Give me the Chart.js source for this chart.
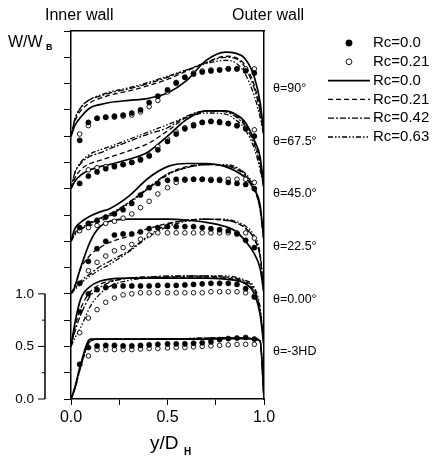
<!DOCTYPE html>
<html lang="en">
<head>
<meta charset="UTF-8">
<title>W/WB profiles, inner to outer wall</title>
<script src="https://cdn.jsdelivr.net/npm/chart.js@4/dist/chart.umd.min.js"></script>
<style>
    html, body { margin: 0; padding: 0; background: #fff; }
    #wrap { position: relative; width: 438px; height: 459px; }
</style>
</head>
<body>
<div id="wrap"><canvas id="profiles"></canvas></div>
<script>
// y/DH stations of the computed curves and of the measured symbols
const lineX = [0, 0.02, 0.05, 0.1, 0.15, 0.2, 0.3, 0.4, 0.5, 0.6, 0.7, 0.8, 0.85, 0.9, 0.95, 0.98, 1.0];
const dotX = [0.02, 0.045, 0.09, 0.135, 0.18, 0.225, 0.27, 0.315, 0.36, 0.405, 0.45, 0.5, 0.545, 0.59, 0.635, 0.68, 0.725, 0.77, 0.815, 0.86, 0.905, 0.95];

// profiles, bottom to top; each is shifted up by its offset
const stations = ['θ=-3HD', 'θ=0.00°', 'θ=22.5°', 'θ=45.0°', 'θ=67.5°', 'θ=90°'];
const offsets = [0, 0.5, 1.0, 1.5, 2.0, 2.5];
const seriesLabels = ['Rc=0.0', 'Rc=0.21', 'Rc=0.0', 'Rc=0.21', 'Rc=0.42', 'Rc=0.63'];

// measured, Rc=0.0 (filled) - one row per profile, on dotX
const measRc000 = [
    [null, 0.33, 0.49, 0.505, 0.51, 0.51, 0.505, 0.505, 0.51, 0.515, 0.52, 0.525, 0.525, 0.525, 0.53, 0.535, 0.545, 0.565, 0.575, 0.58, 0.585, 0.57],
    [null, 0.83, 1.0, 1.04, 1.06, 1.075, 1.075, 1.075, 1.075, 1.075, 1.08, 1.08, 1.08, 1.085, 1.09, 1.095, 1.1, 1.1, 1.1, 1.09, 1.05, 0.97],
    [null, 1.1, 1.31, 1.43, 1.5, 1.56, 1.57, 1.57, 1.59, 1.62, 1.63, 1.64, 1.64, 1.64, 1.64, 1.63, 1.62, 1.61, 1.6, 1.57, 1.51, 1.44],
    [null, 1.63, 1.67, 1.7, 1.73, 1.76, 1.8, 1.86, 1.94, 2.01, 2.05, 2.08, 2.09, 2.09, 2.09, 2.09, 2.08, 2.08, 2.06, 2.05, 2.04, 2.0],
    [null, 2.05, 2.12, 2.16, 2.19, 2.21, 2.23, 2.25, 2.28, 2.31, 2.37, 2.45, 2.52, 2.57, 2.6, 2.63, 2.64, 2.63, 2.62, 2.6, 2.57, 2.5],
    [null, 2.46, 2.63, 2.67, 2.68, 2.69, 2.7, 2.72, 2.75, 2.82, 2.88, 2.94, 3.01, 3.06, 3.09, 3.11, 3.12, 3.13, 3.14, 3.14, 3.12, 3.1]
];
// measured, Rc=0.21 (open)
const measRc021 = [
    [null, null, 0.41, 0.47, 0.47, 0.47, 0.47, 0.47, 0.475, 0.48, 0.48, 0.485, 0.49, 0.49, 0.495, 0.5, 0.505, 0.51, 0.515, 0.52, 0.52, 0.52],
    [null, 0.63, 0.77, 0.85, 0.92, 0.96, 0.99, 1.0, 1.01, 1.01, 1.01, 1.01, 1.01, 1.01, 1.01, 1.01, 1.02, 1.02, 1.02, 1.02, 1.01, 0.98],
    [null, null, 1.22, 1.3, 1.36, 1.41, 1.44, 1.47, 1.52, 1.56, 1.58, 1.58, 1.58, 1.58, 1.58, 1.58, 1.58, 1.58, 1.58, 1.58, 1.58, 1.53],
    [null, 1.6, 1.63, 1.65, 1.67, 1.69, 1.72, 1.76, 1.82, 1.88, 1.95, 2.01, 2.06, 2.08, 2.09, 2.09, 2.09, 2.09, 2.09, 2.09, 2.09, 2.06],
    [null, null, 2.18, 2.2, 2.21, 2.22, 2.23, 2.25, 2.27, 2.32, 2.4, 2.47, 2.54, 2.58, 2.61, 2.63, 2.64, 2.64, 2.62, 2.6, 2.58, 2.56],
    [null, 2.52, 2.6, 2.67, 2.68, 2.68, 2.69, 2.7, 2.73, 2.78, 2.84, 2.92, 3.0, 3.06, 3.1, 3.12, 3.13, 3.13, 3.14, 3.14, 3.14, 3.14]
];

// computed curves, on lineX
const calcRc000 = [
    [0, 0.11, 0.33, 0.57, 0.57, 0.57, 0.57, 0.57, 0.57, 0.57, 0.57, 0.575, 0.575, 0.575, 0.57, 0.55, 0],
    [0.5, 0.72, 0.95, 1.07, 1.12, 1.14, 1.15, 1.15, 1.15, 1.15, 1.15, 1.14, 1.13, 1.1, 1.0, 0.8, 0.5],
    [1.0, 1.07, 1.25, 1.5, 1.64, 1.69, 1.71, 1.71, 1.71, 1.7, 1.68, 1.64, 1.6, 1.51, 1.38, 1.24, 1.0],
    [1.5, 1.62, 1.68, 1.74, 1.78, 1.81, 1.93, 2.1, 2.21, 2.24, 2.24, 2.21, 2.17, 2.11, 1.99, 1.84, 1.5],
    [2.0, 2.07, 2.13, 2.18, 2.21, 2.23, 2.28, 2.35, 2.5, 2.66, 2.74, 2.74, 2.71, 2.64, 2.46, 2.3, 2.0],
    [2.5, 2.6, 2.68, 2.77, 2.8, 2.82, 2.84, 2.86, 2.91, 3.03, 3.22, 3.3, 3.29, 3.24, 3.06, 2.82, 2.5]
];
const calcRc021 = [
    [0, 0.1, 0.32, 0.56, 0.57, 0.57, 0.57, 0.57, 0.57, 0.575, 0.575, 0.58, 0.58, 0.58, 0.575, 0.55, 0],
    [0.5, 0.68, 0.86, 1.02, 1.09, 1.12, 1.15, 1.16, 1.16, 1.16, 1.16, 1.15, 1.14, 1.11, 1.02, 0.82, 0.5],
    [1.0, 1.08, 1.24, 1.37, 1.44, 1.49, 1.55, 1.62, 1.67, 1.7, 1.71, 1.7, 1.68, 1.63, 1.52, 1.35, 1.0],
    [1.5, 1.58, 1.62, 1.65, 1.69, 1.74, 1.87, 2.0, 2.14, 2.21, 2.23, 2.22, 2.19, 2.13, 1.99, 1.8, 1.5],
    [2.0, 2.1, 2.18, 2.24, 2.27, 2.3, 2.36, 2.43, 2.55, 2.68, 2.74, 2.74, 2.7, 2.62, 2.45, 2.25, 2.0],
    [2.5, 2.64, 2.74, 2.82, 2.86, 2.89, 2.93, 2.98, 3.04, 3.12, 3.2, 3.26, 3.25, 3.18, 2.98, 2.76, 2.5]
];
const calcRc042 = [
    [0, 0.1, 0.31, 0.55, 0.57, 0.57, 0.57, 0.57, 0.575, 0.575, 0.58, 0.58, 0.58, 0.58, 0.575, 0.55, 0],
    [0.5, 0.64, 0.8, 0.98, 1.06, 1.11, 1.15, 1.16, 1.17, 1.17, 1.17, 1.16, 1.15, 1.12, 1.04, 0.84, 0.5],
    [1.0, 1.05, 1.12, 1.19, 1.26, 1.31, 1.41, 1.55, 1.66, 1.7, 1.71, 1.7, 1.68, 1.63, 1.52, 1.35, 1.0],
    [1.5, 1.57, 1.62, 1.68, 1.72, 1.76, 1.87, 2.01, 2.14, 2.2, 2.23, 2.22, 2.2, 2.14, 2.0, 1.8, 1.5],
    [2.0, 2.15, 2.24, 2.31, 2.34, 2.38, 2.45, 2.52, 2.58, 2.69, 2.74, 2.73, 2.69, 2.6, 2.42, 2.22, 2.0],
    [2.5, 2.66, 2.77, 2.85, 2.88, 2.91, 2.95, 3.0, 3.06, 3.13, 3.2, 3.25, 3.24, 3.16, 2.95, 2.73, 2.5]
];
const calcRc063 = [
    [0, 0.09, 0.3, 0.55, 0.57, 0.57, 0.57, 0.57, 0.575, 0.575, 0.58, 0.58, 0.58, 0.58, 0.575, 0.55, 0],
    [0.5, 0.58, 0.68, 0.88, 1.0, 1.07, 1.13, 1.15, 1.16, 1.17, 1.17, 1.17, 1.16, 1.13, 1.06, 0.87, 0.5],
    [1.0, 1.04, 1.1, 1.17, 1.23, 1.28, 1.4, 1.54, 1.64, 1.69, 1.71, 1.71, 1.69, 1.65, 1.55, 1.38, 1.0],
    [1.5, 1.56, 1.61, 1.67, 1.71, 1.75, 1.86, 2.0, 2.13, 2.2, 2.23, 2.23, 2.21, 2.15, 2.02, 1.82, 1.5],
    [2.0, 2.15, 2.25, 2.33, 2.37, 2.4, 2.47, 2.54, 2.61, 2.68, 2.72, 2.71, 2.66, 2.57, 2.38, 2.18, 2.0],
    [2.5, 2.66, 2.77, 2.85, 2.89, 2.92, 2.96, 3.01, 3.07, 3.13, 3.19, 3.22, 3.2, 3.1, 2.88, 2.68, 2.5]
];

const FONT = 'Arial, "Liberation Sans", sans-serif';

// all profiles of one series in one dataset, broken by a null point
function joinRows(xs, rows) {
    const pts = [];
    rows.forEach(row => {
        row.forEach((v, i) => pts.push({ x: xs[i], y: v }));
        pts.push({ x: 1, y: null });
    });
    return pts;
}

const lineStyle = (label, rows, dash) => ({
    label: label,
    data: joinRows(lineX, rows),
    borderColor: '#000',
    borderWidth: dash.length ? 1.3 : 1.7,
    borderDash: dash,
    pointRadius: 0,
    cubicInterpolationMode: 'monotone',
    fill: false
});

const datasets = [
    { label: seriesLabels[0], data: joinRows(dotX, measRc000), showLine: false,
      pointRadius: 2.6, pointBackgroundColor: '#000', pointBorderColor: '#000', pointBorderWidth: 0.5 },
    { label: seriesLabels[1], data: joinRows(dotX, measRc021), showLine: false,
      pointRadius: 2.3, pointBackgroundColor: '#fff', pointBorderColor: '#000', pointBorderWidth: 0.9 },
    lineStyle(seriesLabels[2], calcRc000, []),
    lineStyle(seriesLabels[3], calcRc021, [5, 3]),
    lineStyle(seriesLabels[4], calcRc042, [6, 2, 2, 2]),
    lineStyle(seriesLabels[5], calcRc063, [5, 2, 1.5, 2, 1.5, 2])
];

// titles, station labels, scale bar and legend
const decor = {
    id: 'decor',
    afterDraw(chart) {
        const ctx = chart.ctx;
        const ys = chart.scales.y;
        const area = chart.chartArea;
        ctx.save();
        ctx.fillStyle = '#000';
        ctx.strokeStyle = '#000';
        ctx.textBaseline = 'middle';
        ctx.textAlign = 'left';

        ctx.font = '16px ' + FONT;
        ctx.fillText('Inner wall', 45, 16);
        ctx.fillText('Outer wall', 232, 16);
        ctx.fillText('W/W', 8, 43);
        ctx.font = 'bold 9px ' + FONT;
        ctx.fillText('B', 46, 48);

        ctx.font = '19px ' + FONT;
        ctx.fillText('y/D', 150, 444);
        ctx.font = 'bold 10px ' + FONT;
        ctx.fillText('H', 184, 452);

        ctx.font = '12.5px ' + FONT;
        stations.forEach((s, i) => {
            ctx.fillText(s, area.right + 9, ys.getPixelForValue(offsets[i] + 0.45));
        });

        // scale bar on the far left
        const bx = 45;
        ctx.lineWidth = 1.5;
        ctx.beginPath();
        ctx.moveTo(bx, ys.getPixelForValue(0));
        ctx.lineTo(bx, ys.getPixelForValue(1));
        ctx.stroke();
        ctx.lineWidth = 1;
        [0, 0.25, 0.5, 0.75, 1].forEach(v => {
            const py = ys.getPixelForValue(v);
            const major = Math.abs(v * 2 - Math.round(v * 2)) < 1e-6;
            ctx.beginPath();
            ctx.moveTo(bx - (major ? 7 : 3), py);
            ctx.lineTo(bx, py);
            ctx.stroke();
        });
        ctx.font = '13.5px ' + FONT;
        ctx.textAlign = 'right';
        [0, 0.5, 1].forEach(v => ctx.fillText(v.toFixed(1), 34, ys.getPixelForValue(v)));

        // legend
        ctx.textAlign = 'left';
        ctx.font = '15px ' + FONT;
        chart.data.datasets.forEach((ds, i) => {
            const py = 43 + i * 18.8;
            if (ds.showLine === false) {
                ctx.beginPath();
                ctx.arc(349, py, ds.pointRadius + 0.6, 0, Math.PI * 2);
                ctx.fillStyle = ds.pointBackgroundColor;
                ctx.fill();
                ctx.lineWidth = ds.pointBorderWidth;
                ctx.stroke();
            } else {
                ctx.lineWidth = ds.borderWidth;
                ctx.setLineDash(ds.borderDash);
                ctx.beginPath();
                ctx.moveTo(328, py);
                ctx.lineTo(370, py);
                ctx.stroke();
                ctx.setLineDash([]);
            }
            ctx.fillStyle = '#000';
            ctx.fillText(ds.label, 373, py);
        });
        ctx.restore();
    }
};

const half = v => Math.abs(v * 2 - Math.round(v * 2)) < 1e-6;

new Chart(document.getElementById('profiles'), {
    type: 'line',
    data: { datasets: datasets },
    plugins: [decor],
    options: {
        responsive: true,
        maintainAspectRatio: false,
        animation: false,
        layout: { padding: { left: 64, right: 174, top: 31, bottom: 30 } },
        plugins: { legend: { display: false }, tooltip: { enabled: false } },
        scales: {
            x: {
                type: 'linear', min: 0, max: 1,
                border: { color: '#000', width: 1.5 },
                grid: { drawOnChartArea: false, color: '#000', tickLength: 6 },
                ticks: {
                    stepSize: 0.25, padding: 3, color: '#000', maxRotation: 0,
                    font: { family: FONT, size: 16 },
                    callback: v => (half(v) ? v.toFixed(1) : '')
                },
                afterFit: s => { s.height = 30; }
            },
            x2: {
                type: 'linear', position: 'top', min: 0, max: 1,
                border: { color: '#000', width: 1.5 },
                grid: { drawOnChartArea: false, drawTicks: false },
                ticks: { display: false },
                afterFit: s => { s.height = 0; }
            },
            y: {
                type: 'linear', min: 0, max: 3.5,
                border: { color: '#000', width: 1.5 },
                grid: { drawOnChartArea: false, color: '#000', tickLength: 7 },
                ticks: { stepSize: 0.25, display: false },
                afterFit: s => { s.width = 7; }
            },
            y2: {
                type: 'linear', position: 'right', min: 0, max: 3.5,
                border: { color: '#000', width: 1.5 },
                grid: { drawOnChartArea: false, drawTicks: false },
                ticks: { display: false },
                afterFit: s => { s.width = 0; }
            }
        }
    }
});
</script>
</body>
</html>
